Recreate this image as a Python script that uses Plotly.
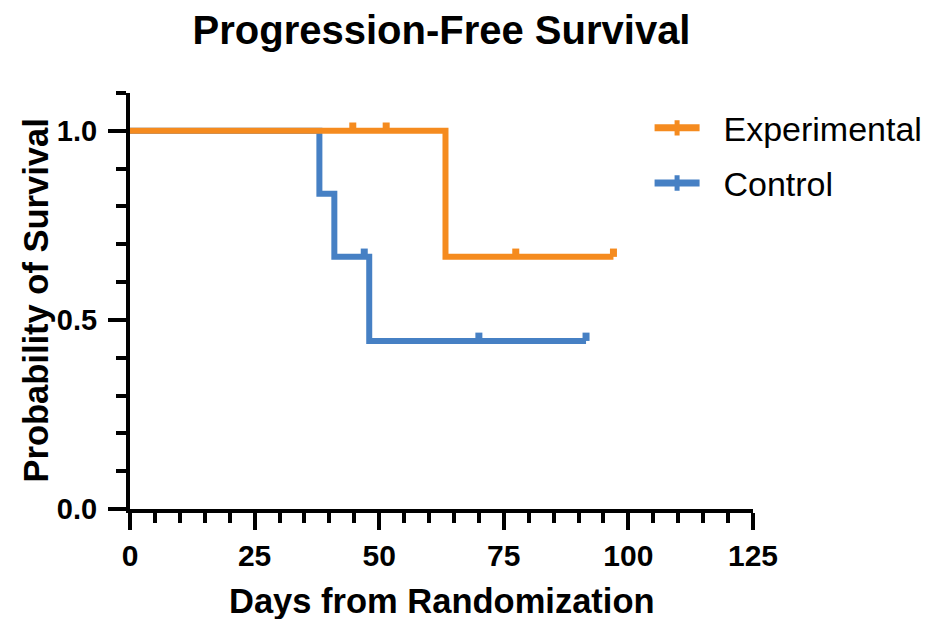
import plotly.graph_objects as go

# ---- data ----
exp_name = "Experimental"
exp_times = [0, 63.3, 97.0]
exp_surv = [1.0, 0.6667, 0.6667]
exp_cens_times = [44.7, 51.4, 77.4, 97.0]
exp_cens_surv = [1.0, 1.0, 0.6667, 0.6667]

ctl_name = "Control"
ctl_times = [0, 38.0, 41.0, 48.0, 91.5]
ctl_surv = [1.0, 0.8333, 0.6667, 0.4444, 0.4444]
ctl_cens_times = [47.0, 70.0, 91.5]
ctl_cens_surv = [0.6667, 0.4444, 0.4444]

x_ticks = [0, 25, 50, 75, 100, 125]
y_ticks = [0.0, 0.5, 1.0]

ORANGE = "#F58B1F"
BLUE = "#4680C4"
FONT = "Liberation Sans, Arial, sans-serif"
CENS_H = 0.022  # censor tick height in data units (style)
NB = "\u00a0"


def censor_xy(ts, ss):
    xs, ys = [], []
    for t, s in zip(ts, ss):
        xs += [t, t, None]
        ys += [s, s + CENS_H, None]
    return xs, ys


fig = go.Figure()

for name, ts, ss, cts, css, col in [
    (ctl_name, ctl_times, ctl_surv, ctl_cens_times, ctl_cens_surv, BLUE),
    (exp_name, exp_times, exp_surv, exp_cens_times, exp_cens_surv, ORANGE),
]:
    fig.add_trace(go.Scatter(
        x=ts, y=ss, mode="lines", showlegend=False, legendgroup=name,
        line=dict(color=col, width=6, shape="hv"),
    ))
    cx, cy = censor_xy(cts, css)
    fig.add_trace(go.Scatter(
        x=cx, y=cy, mode="lines", showlegend=False, legendgroup=name,
        line=dict(color=col, width=7),
    ))

# legend entries (line with censor tick)
for name, col, rank in [(exp_name, ORANGE, 1), (ctl_name, BLUE, 2)]:
    fig.add_trace(go.Scatter(
        x=[None], y=[None], mode="lines+markers", name=NB * 2 + name,
        legendgroup=name, legendrank=rank,
        line=dict(color=col, width=7),
        marker=dict(symbol="line-ns", size=11, color=col,
                    line=dict(color=col, width=7)),
    ))

fig.update_layout(
    width=933, height=619,
    margin=dict(l=129.5, r=180.4, t=93, b=110, autoexpand=False),
    paper_bgcolor="white", plot_bgcolor="white",
    font=dict(family=FONT, color="black"),
    title=dict(text="Progression-Free Survival", x=0.5, xref="paper",
               y=0.952, yanchor="middle",
               font=dict(size=40, weight="bold", family=FONT, color="black")),
    legend=dict(x=0.834, y=0.985, xanchor="left", yanchor="top",
                font=dict(size=34, family=FONT, color="black"),
                traceorder="grouped", tracegroupgap=8, itemwidth=45,
                bgcolor="rgba(0,0,0,0)"),
    showlegend=True,
    annotations=[
        dict(text="<b>Days from Randomization</b>", xref="paper", yref="paper",
             x=0.5, y=-(601 - 509) / 416, xanchor="center", yanchor="middle",
             showarrow=False, font=dict(size=34.5, family=FONT, color="black")),
        dict(text="<b>Probability of Survival</b>", xref="paper", yref="paper",
             x=-(129.5 - 35) / 623.1, y=0.5, xanchor="center", yanchor="middle",
             textangle=-90, showarrow=False,
             font=dict(size=34.5, family=FONT, color="black")),
    ],
)

fig.update_xaxes(
    range=[0, 125], tickvals=x_ticks, ticktext=[str(v) for v in x_ticks],
    showline=True, linecolor="black", linewidth=4, mirror=False,
    ticks="outside", ticklen=17, tickwidth=4, tickcolor="black",
    ticklabelstandoff=0,
    minor=dict(dtick=5, tick0=0, ticks="outside", ticklen=10, tickwidth=4, tickcolor="black"),
    tickfont=dict(size=30, weight="bold", family=FONT, color="black"),
    showgrid=False, zeroline=False,
)
fig.update_yaxes(
    range=[0, 1.1], tickvals=y_ticks, ticktext=["%.1f" % v for v in y_ticks],
    showline=True, linecolor="black", linewidth=4, mirror=False,
    ticks="outside", ticklen=18, tickwidth=4, tickcolor="black",
    ticklabelstandoff=5,
    minor=dict(dtick=0.1, tick0=0, ticks="outside", ticklen=10, tickwidth=4, tickcolor="black"),
    tickfont=dict(size=29, weight="bold", family=FONT, color="black"),
    showgrid=False, zeroline=False,
)

fig.write_html("out.html")
